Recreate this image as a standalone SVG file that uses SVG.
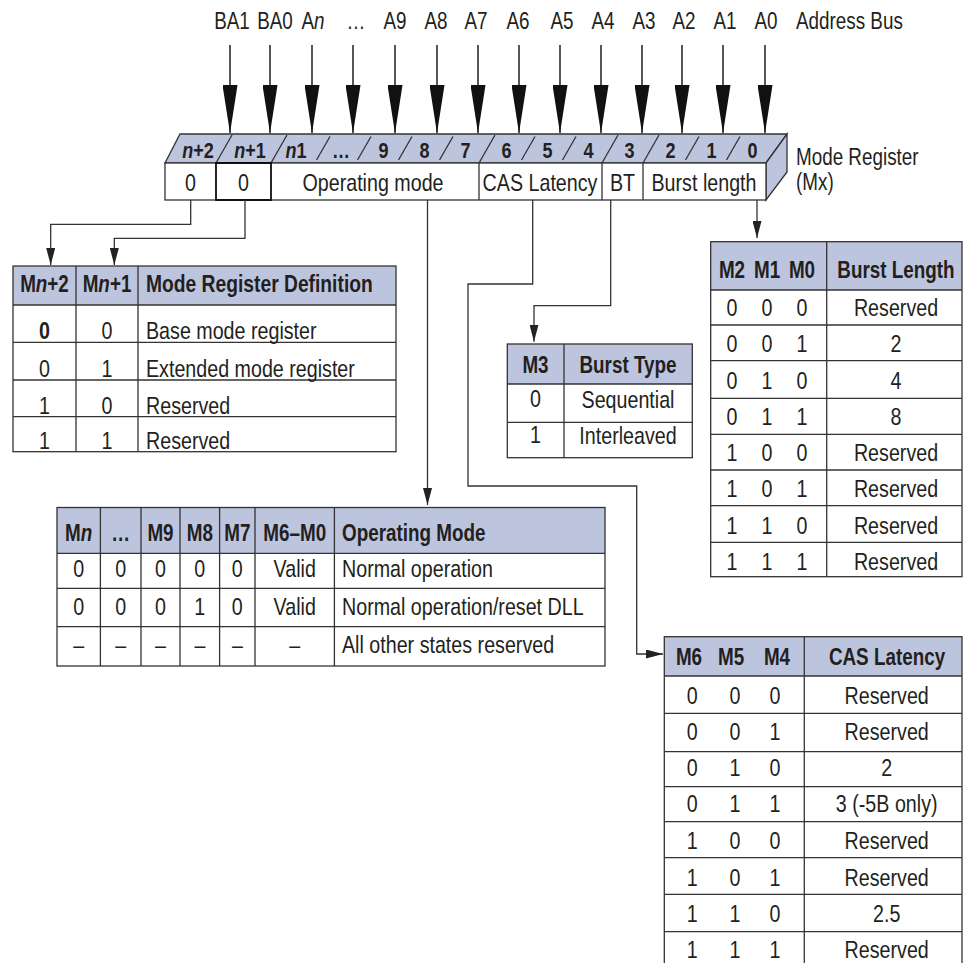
<svg xmlns="http://www.w3.org/2000/svg" width="965" height="963" viewBox="0 0 965 963">
<defs>
<marker id="big" markerUnits="userSpaceOnUse" markerWidth="48" markerHeight="15" refX="48" refY="7.5" orient="auto"><path d="M0,0 L48,7.5 L0,15 Z" fill="#111"/></marker>
<marker id="sm" markerUnits="userSpaceOnUse" markerWidth="17" markerHeight="9" refX="17" refY="4.5" orient="auto"><path d="M0,0 L17,4.5 L0,9 Z" fill="#222"/></marker>
<style>
text{font-family:'Liberation Sans',Arial,sans-serif;fill:#231f20;font-size:23px;transform-box:fill-box;transform-origin:left center;transform:scaleX(.82)}
.t{font-size:24px}
.b{font-weight:bold}
.c{text-anchor:middle;transform-origin:center}
.i{font-style:italic}
.ln{stroke:#333;stroke-width:1.3;fill:none}
.hd{fill:#bdc4de}
.face{fill:#bdc4de;stroke:#333;stroke-width:1.3}
.wire{stroke:#333;stroke-width:1.3;fill:none;marker-end:url(#sm)}
.bus{stroke:#111;stroke-width:1.4;marker-end:url(#big)}
.top{font-size:22px}
</style>
</defs>
<rect width="965" height="963" fill="#fff"/>

<g id="address-bus">
<line class="bus" x1="230" y1="45" x2="230" y2="133"/>
<line class="bus" x1="270" y1="45" x2="270" y2="133"/>
<line class="bus" x1="312" y1="45" x2="312" y2="133"/>
<line class="bus" x1="353" y1="45" x2="353" y2="133"/>
<line class="bus" x1="395" y1="45" x2="395" y2="133"/>
<line class="bus" x1="437" y1="45" x2="437" y2="133"/>
<line class="bus" x1="478" y1="45" x2="478" y2="133"/>
<line class="bus" x1="519" y1="45" x2="519" y2="133"/>
<line class="bus" x1="560" y1="45" x2="560" y2="133"/>
<line class="bus" x1="601" y1="45" x2="601" y2="133"/>
<line class="bus" x1="642" y1="45" x2="642" y2="133"/>
<line class="bus" x1="682" y1="45" x2="682" y2="133"/>
<line class="bus" x1="723" y1="45" x2="723" y2="133"/>
<line class="bus" x1="765" y1="45" x2="765" y2="133"/>
<text class="c" x="232" y="29.5">BA1</text>
<text class="c" x="275" y="29.5">BA0</text>
<text class="c" x="313" y="29.5">A<tspan class="i">n</tspan></text>
<text class="c" x="356" y="29.5">…</text>
<text class="c" x="395" y="29.5">A9</text>
<text class="c" x="436" y="29.5">A8</text>
<text class="c" x="476" y="29.5">A7</text>
<text class="c" x="518" y="29.5">A6</text>
<text class="c" x="562" y="29.5">A5</text>
<text class="c" x="603" y="29.5">A4</text>
<text class="c" x="644" y="29.5">A3</text>
<text class="c" x="684" y="29.5">A2</text>
<text class="c" x="725" y="29.5">A1</text>
<text class="c" x="766" y="29.5">A0</text>
<text x="796" y="29.5">Address Bus</text>
</g>

<g id="mode-register">
<polygon class="face" points="165,163 180,134 787,134 766,163"/>
<polygon class="face" points="766,163 787,134 787,172 766,200"/>
<rect x="165" y="163" width="601" height="37" fill="#fff" stroke="#333" stroke-width="1.3"/>
<g class="ln">
<line x1="479" y1="163" x2="479" y2="200"/>
<line x1="602" y1="163" x2="602" y2="200"/>
<line x1="643" y1="163" x2="643" y2="200"/>
<line x1="216" y1="163" x2="232" y2="135"/>
<line x1="271" y1="163" x2="287" y2="135"/>
<line x1="316.5" y1="160" x2="330" y2="136.5"/>
<line x1="357.5" y1="160" x2="371" y2="136.5"/>
<line x1="398.5" y1="160" x2="412" y2="136.5"/>
<line x1="439.5" y1="160" x2="453" y2="136.5"/>
<line x1="479" y1="163" x2="495" y2="135"/>
<line x1="521.5" y1="160" x2="535" y2="136.5"/>
<line x1="562.5" y1="160" x2="576" y2="136.5"/>
<line x1="602" y1="163" x2="618" y2="135"/>
<line x1="643" y1="163" x2="659" y2="135"/>
<line x1="685.5" y1="160" x2="699" y2="136.5"/>
<line x1="726.5" y1="160" x2="740" y2="136.5"/>
</g>
<rect x="216" y="163" width="55" height="37" fill="none" stroke="#000" stroke-width="1.7"/>
<text class="b c top" x="198" y="158"><tspan class="i">n</tspan>+2</text>
<text class="b c top" x="250" y="158"><tspan class="i">n</tspan>+1</text>
<text class="b c top" x="296" y="158"><tspan class="i">n</tspan>1</text>
<text class="b c top" x="341" y="158">…</text>
<text class="b c top" x="383.5" y="158">9</text>
<text class="b c top" x="424.5" y="158">8</text>
<text class="b c top" x="465.5" y="158">7</text>
<text class="b c top" x="506.5" y="158">6</text>
<text class="b c top" x="547.5" y="158">5</text>
<text class="b c top" x="588.5" y="158">4</text>
<text class="b c top" x="629.5" y="158">3</text>
<text class="b c top" x="670.5" y="158">2</text>
<text class="b c top" x="711.5" y="158">1</text>
<text class="b c top" x="752.5" y="158">0</text>
<text class="t c" x="190.5" y="191.5">0</text>
<text class="t c" x="243.5" y="191.5">0</text>
<text class="t c" x="373" y="191.5">Operating mode</text>
<text class="t c" x="540" y="191.5">CAS Latency</text>
<text class="t c" x="622.5" y="191.5">BT</text>
<text class="t c" x="704" y="191.5">Burst length</text>
<text x="796" y="165.5">Mode Register</text>
<text x="796" y="190">(Mx)</text>
</g>

<g id="table-mode-register-definition">
<rect class="hd" x="13" y="266" width="383" height="39"/>
<rect class="ln" x="13" y="266" width="383" height="185.7"/>
<g class="ln">
<line x1="13" y1="305" x2="396" y2="305"/>
<line x1="13" y1="342.3" x2="396" y2="342.3"/>
<line x1="13" y1="380" x2="396" y2="380"/>
<line x1="13" y1="416.7" x2="396" y2="416.7"/>
<line x1="76" y1="266" x2="76" y2="451.7"/>
<line x1="138" y1="266" x2="138" y2="451.7"/>
</g>
<text class="b c" x="44.5" y="292">M<tspan class="i">n</tspan>+2</text>
<text class="b c" x="107" y="292">M<tspan class="i">n</tspan>+1</text>
<text class="b" x="146" y="292" style="font-size:23.5px">Mode Register Definition</text>
<text class="t c b" x="44.5" y="339.5">0</text><text class="t c" x="107" y="339.5">0</text><text class="t" x="146" y="339.5">Base mode register</text>
<text class="t c" x="44.5" y="377">0</text><text class="t c" x="107" y="377">1</text><text class="t" x="146" y="377">Extended mode register</text>
<text class="t c" x="44.5" y="414">1</text><text class="t c" x="107" y="414">0</text><text class="t" x="146" y="414">Reserved</text>
<text class="t c" x="44.5" y="449.5">1</text><text class="t c" x="107" y="449.5">1</text><text class="t" x="146" y="449.5">Reserved</text>
</g>

<g id="table-burst-type">
<rect class="hd" x="507.3" y="344" width="185" height="40"/>
<rect class="ln" x="507.3" y="344" width="185" height="113.7"/>
<g class="ln">
<line x1="507.3" y1="384" x2="692.3" y2="384"/>
<line x1="507.3" y1="422.3" x2="692.3" y2="422.3"/>
<line x1="564" y1="344" x2="564" y2="457.7"/>
</g>
<text class="b c" x="535.5" y="373">M3</text>
<text class="b c" x="628" y="373">Burst Type</text>
<text class="t c" x="535.5" y="407.5">0</text><text class="t c" x="628" y="408">Sequential</text>
<text class="t c" x="535.5" y="443.5">1</text><text class="t c" x="628" y="444">Interleaved</text>
</g>

<g id="table-burst-length">
<rect class="hd" x="710.7" y="241.7" width="251.3" height="48.3"/>
<rect class="ln" x="710.7" y="241.7" width="251.3" height="335"/>
<g class="ln">
<line x1="710.7" y1="290" x2="962" y2="290"/>
<line x1="710.7" y1="325" x2="962" y2="325"/>
<line x1="710.7" y1="360.7" x2="962" y2="360.7"/>
<line x1="710.7" y1="398.3" x2="962" y2="398.3"/>
<line x1="710.7" y1="434.3" x2="962" y2="434.3"/>
<line x1="710.7" y1="470" x2="962" y2="470"/>
<line x1="710.7" y1="505.7" x2="962" y2="505.7"/>
<line x1="710.7" y1="542.3" x2="962" y2="542.3"/>
<line x1="826.7" y1="241.7" x2="826.7" y2="576.7"/>
</g>
<text class="b c" x="732" y="278">M2</text><text class="b c" x="767" y="278">M1</text><text class="b c" x="802" y="278">M0</text>
<text class="b c" x="896" y="278">Burst Length</text>
<text class="t c" x="732" y="316">0</text><text class="t c" x="767" y="316">0</text><text class="t c" x="802" y="316">0</text><text class="t c" x="896" y="316">Reserved</text>
<text class="t c" x="732" y="352.5">0</text><text class="t c" x="767" y="352.5">0</text><text class="t c" x="802" y="352.5">1</text><text class="t c" x="896" y="352.5">2</text>
<text class="t c" x="732" y="389">0</text><text class="t c" x="767" y="389">1</text><text class="t c" x="802" y="389">0</text><text class="t c" x="896" y="389">4</text>
<text class="t c" x="732" y="425">0</text><text class="t c" x="767" y="425">1</text><text class="t c" x="802" y="425">1</text><text class="t c" x="896" y="425">8</text>
<text class="t c" x="732" y="461.5">1</text><text class="t c" x="767" y="461.5">0</text><text class="t c" x="802" y="461.5">0</text><text class="t c" x="896" y="461.5">Reserved</text>
<text class="t c" x="732" y="497.5">1</text><text class="t c" x="767" y="497.5">0</text><text class="t c" x="802" y="497.5">1</text><text class="t c" x="896" y="497.5">Reserved</text>
<text class="t c" x="732" y="534">1</text><text class="t c" x="767" y="534">1</text><text class="t c" x="802" y="534">0</text><text class="t c" x="896" y="534">Reserved</text>
<text class="t c" x="732" y="570">1</text><text class="t c" x="767" y="570">1</text><text class="t c" x="802" y="570">1</text><text class="t c" x="896" y="570">Reserved</text>
</g>

<g id="table-operating-mode">
<rect class="hd" x="57" y="507.5" width="548" height="45.8"/>
<rect class="ln" x="57" y="507.5" width="548" height="158.5"/>
<g class="ln">
<line x1="57" y1="553.3" x2="605" y2="553.3"/>
<line x1="57" y1="588.3" x2="605" y2="588.3"/>
<line x1="57" y1="626.7" x2="605" y2="626.7"/>
<line x1="100.4" y1="507.5" x2="100.4" y2="666"/>
<line x1="141" y1="507.5" x2="141" y2="666"/>
<line x1="180" y1="507.5" x2="180" y2="666"/>
<line x1="219.6" y1="507.5" x2="219.6" y2="666"/>
<line x1="255" y1="507.5" x2="255" y2="666"/>
<line x1="334.4" y1="507.5" x2="334.4" y2="666"/>
</g>
<text class="b c" x="78.7" y="541.5">M<tspan class="i">n</tspan></text>
<text class="b c" x="120.7" y="541.5">…</text>
<text class="b c" x="160.5" y="541.5">M9</text>
<text class="b c" x="199.8" y="541.5">M8</text>
<text class="b c" x="237.3" y="541.5">M7</text>
<text class="b c" x="294.7" y="541.5">M6–M0</text>
<text class="b" x="342" y="541.5">Operating Mode</text>
<text class="t c" x="78.7" y="577.5">0</text><text class="t c" x="120.7" y="577.5">0</text><text class="t c" x="160.5" y="577.5">0</text><text class="t c" x="199.8" y="577.5">0</text><text class="t c" x="237.3" y="577.5">0</text><text class="t c" x="294.7" y="577.5">Valid</text><text class="t" x="342" y="577.5">Normal operation</text>
<text class="t c" x="78.7" y="615.5">0</text><text class="t c" x="120.7" y="615.5">0</text><text class="t c" x="160.5" y="615.5">0</text><text class="t c" x="199.8" y="615.5">1</text><text class="t c" x="237.3" y="615.5">0</text><text class="t c" x="294.7" y="615.5">Valid</text><text class="t" x="342" y="615.5">Normal operation/reset DLL</text>
<text class="t c" x="78.7" y="653">–</text><text class="t c" x="120.7" y="653">–</text><text class="t c" x="160.5" y="653">–</text><text class="t c" x="199.8" y="653">–</text><text class="t c" x="237.3" y="653">–</text><text class="t c" x="294.7" y="653">–</text><text class="t" x="342" y="653">All other states reserved</text>
</g>

<g id="table-cas-latency">
<rect class="hd" x="664.3" y="636.7" width="297.7" height="39.3"/>
<rect class="ln" x="664.3" y="636.7" width="297.7" height="335"/>
<g class="ln">
<line x1="664.3" y1="676" x2="962" y2="676"/>
<line x1="664.3" y1="713.3" x2="962" y2="713.3"/>
<line x1="664.3" y1="751.7" x2="962" y2="751.7"/>
<line x1="664.3" y1="786.7" x2="962" y2="786.7"/>
<line x1="664.3" y1="821.7" x2="962" y2="821.7"/>
<line x1="664.3" y1="857.7" x2="962" y2="857.7"/>
<line x1="664.3" y1="894.3" x2="962" y2="894.3"/>
<line x1="664.3" y1="931.7" x2="962" y2="931.7"/>
<line x1="804.3" y1="636.7" x2="804.3" y2="970"/>
</g>
<text class="b c" x="689" y="665">M6</text><text class="b c" x="731" y="665">M5</text><text class="b c" x="777" y="665">M4</text>
<text class="b c" x="887" y="665">CAS Latency</text>
<text class="t c" x="692.3" y="704">0</text><text class="t c" x="735" y="704">0</text><text class="t c" x="775" y="704">0</text><text class="t c" x="886.7" y="704">Reserved</text>
<text class="t c" x="692.3" y="740">0</text><text class="t c" x="735" y="740">0</text><text class="t c" x="775" y="740">1</text><text class="t c" x="886.7" y="740">Reserved</text>
<text class="t c" x="692.3" y="776.5">0</text><text class="t c" x="735" y="776.5">1</text><text class="t c" x="775" y="776.5">0</text><text class="t c" x="886.7" y="776.5">2</text>
<text class="t c" x="692.3" y="812.5">0</text><text class="t c" x="735" y="812.5">1</text><text class="t c" x="775" y="812.5">1</text><text class="t c" x="886.7" y="812.5">3 (-5B only)</text>
<text class="t c" x="692.3" y="849">1</text><text class="t c" x="735" y="849">0</text><text class="t c" x="775" y="849">0</text><text class="t c" x="886.7" y="849">Reserved</text>
<text class="t c" x="692.3" y="886">1</text><text class="t c" x="735" y="886">0</text><text class="t c" x="775" y="886">1</text><text class="t c" x="886.7" y="886">Reserved</text>
<text class="t c" x="692.3" y="922.5">1</text><text class="t c" x="735" y="922.5">1</text><text class="t c" x="775" y="922.5">0</text><text class="t c" x="886.7" y="922.5">2.5</text>
<text class="t c" x="692.3" y="958.5">1</text><text class="t c" x="735" y="958.5">1</text><text class="t c" x="775" y="958.5">1</text><text class="t c" x="886.7" y="958.5">Reserved</text>
</g>

<g id="connectors">
<polyline class="wire" points="190.7,200 190.7,224.3 50.7,224.3 50.7,265"/>
<polyline class="wire" points="245,200 245,238.3 114.3,238.3 114.3,265"/>
<polyline class="wire" points="427.5,200 427.5,505"/>
<polyline class="wire" points="532.7,200 532.7,284 468,284 468,486 636.7,486 636.7,654 663,654"/>
<polyline class="wire" points="610.7,200 610.7,305.7 534,305.7 534,341.7"/>
<polyline class="wire" points="757,200 757,238"/>
</g>
</svg>
